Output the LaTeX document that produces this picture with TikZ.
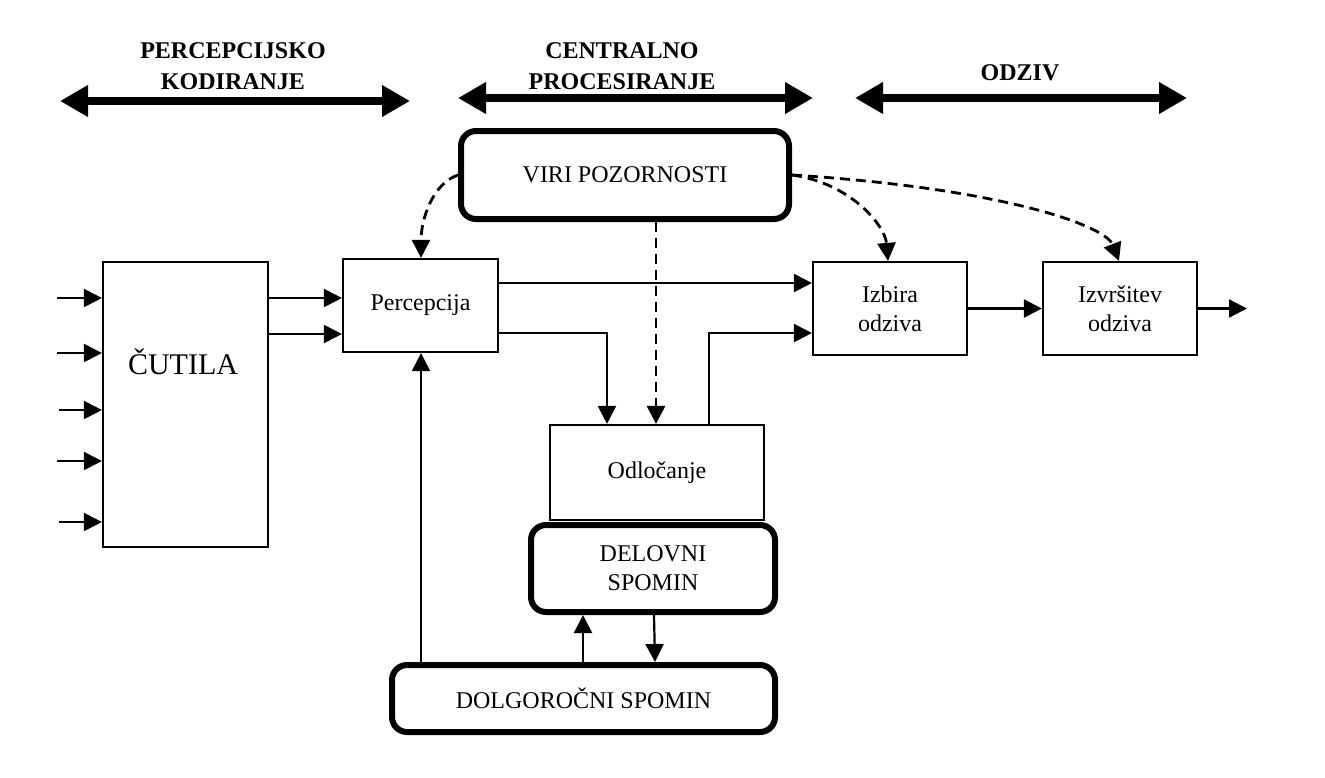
\documentclass[tikz,border=0pt]{standalone}
\usepackage{fontspec}
\setmainfont{Liberation Serif}
\usetikzlibrary{arrows.meta,calc}
\begin{document}
\begin{tikzpicture}[x=1pt,y=-1pt,
  box/.style={draw,line width=2.2pt,inner sep=0pt,align=center,font=\fontsize{24}{29}\selectfont},
  rbox/.style={draw,line width=6pt,rounded corners=15pt,inner sep=0pt,align=center,font=\fontsize{24}{29}\selectfont},
  head/.style={align=center,font=\fontsize{24}{31}\selectfont\bfseries,inner sep=0pt},
  arr/.style={line width=2.2pt,-{Triangle[length=18pt,width=18pt]}},
  darr/.style={line width=2.8pt,dash pattern=on 10pt off 6pt,-{Triangle[length=18pt,width=18pt]}},
  bigarr/.style={line width=8pt,{Triangle[length=28pt,width=30pt]}-{Triangle[length=28pt,width=30pt]}}]
\useasboundingbox[fill=white] (0,0) rectangle (1325,777);

% headers
\node[head] (hperc) at (233,66) {PERCEPCIJSKO\\KODIRANJE};
\node[head] (hcent) at (622,66) {CENTRALNO\\PROCESIRANJE};
\node[head] (hodz) at (1020,73) {ODZIV};
\coordinate (h1a) at (60,101); \coordinate (h1b) at (410,101);
\coordinate (h2a) at (458,98); \coordinate (h2b) at (813,98);
\coordinate (h3a) at (855,98); \coordinate (h3b) at (1187,98);
\draw[bigarr] (h1a) -- (h1b);
\draw[bigarr] (h2a) -- (h2b);
\draw[bigarr] (h3a) -- (h3b);

% boxes
\node[box,minimum width=165pt,minimum height=285pt] (cutila) at (185.5,404.5) {};
\node[font=\fontsize{30}{36}\selectfont,inner sep=0pt] (cutilatext) at (183,362) {ČUTILA};
\node[box,minimum width=155pt,minimum height=93pt] (perc) at (420.5,305.5) {Percepcija};
\node[rbox,minimum width=328pt,minimum height=88pt] (viri) at (625,175) {VIRI POZORNOSTI};
\node[box,minimum width=154pt,minimum height=93pt] (izbira) at (890,308.5) {Izbira\\odziva};
\node[box,minimum width=154pt,minimum height=93pt] (izvr) at (1120,308.5) {Izvršitev\\odziva};
\node[box,minimum width=214pt,minimum height=95pt] (odl) at (657,472.5) {Odločanje};
\node[rbox,minimum width=244pt,minimum height=87pt] (delovni) at (653,568.5) {DELOVNI\\SPOMIN};
\node[rbox,minimum width=383pt,minimum height=67pt] (dolgo) at (583.5,698.5) {DOLGOROČNI SPOMIN};

% inputs to senses
\coordinate (in1) at (57,298);
\coordinate (in2) at (57,353);
\coordinate (in3) at (59,410);
\coordinate (in4) at (57,461);
\coordinate (in5) at (59,522);
\foreach \i in {1,...,5} \draw[arr] (in\i) -- (in\i -| cutila.west);

% senses to perception
\draw[arr] (cutila.east |- 0,298) -- (perc.west |- 0,298);
\draw[arr] (cutila.east |- 0,334) -- (perc.west |- 0,334);

% perception outputs
\draw[arr] (perc.east |- 0,283) -- (izbira.west |- 0,283);
\draw[arr] (perc.east |- 0,333) -| (607,0 |- odl.north);
\draw[arr] (709,0 |- odl.north) |- (izbira.west |- 0,333);

% response chain
\coordinate (out) at (1247,308.5);
\draw[arr] (izbira.east) -- (izvr.west);
\draw[arr] (izvr.east) -- (out);

% memory
\draw[arr] (421,0 |- dolgo.north) -- (421,0 |- perc.south);
\draw[arr] (583,0 |- dolgo.north) -- (583,0 |- delovni.south);
\draw[arr] (654,0 |- delovni.south) -- (655,0 |- dolgo.north);

% attention
\draw[darr] (656,0 |- viri.south) -- (656,0 |- odl.north);
\draw[darr] (viri.west) .. controls (432,184) and (421,220) .. (421,0 |- perc.north);
\draw[darr] (viri.east) .. controls (850,183) and (885,225) .. (888,0 |- izbira.north);
\draw[darr] (viri.east) .. controls (1000,188) and (1105,225) .. (1119,0 |- izvr.north);
\end{tikzpicture}
\end{document}
